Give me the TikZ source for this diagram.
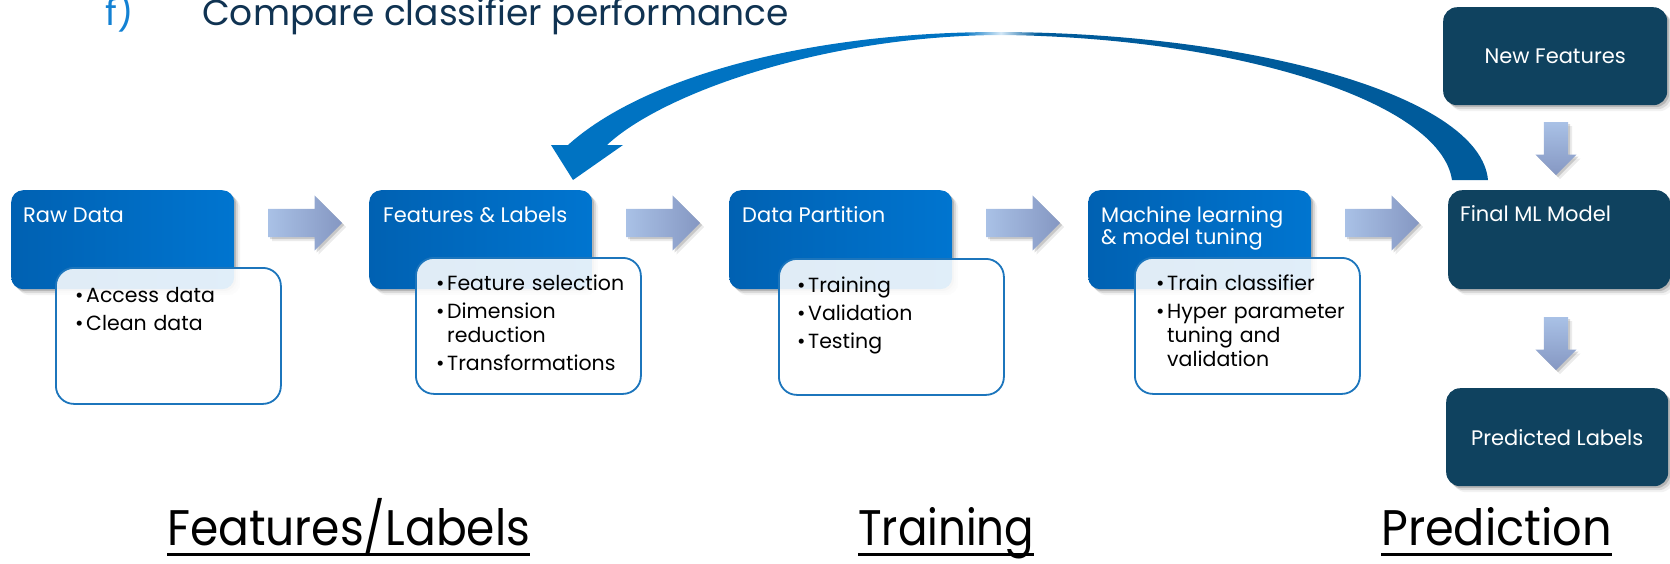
\documentclass[tikz,border=0pt]{standalone}
\usepackage{fontspec}
\usepackage{graphicx}
\setmainfont{Poppins}
\usetikzlibrary{shapes.arrows,shadows}

\definecolor{boxA}{HTML}{0061B2}
\definecolor{boxB}{HTML}{0075D0}
\definecolor{navy}{HTML}{0F425F}
\definecolor{listline}{HTML}{1C75BC}
\definecolor{arcL}{HTML}{0073C2}
\definecolor{arcR}{HTML}{005B9B}
\definecolor{arcHi}{HTML}{D4E8F7}
\definecolor{arrL}{HTML}{A9C1E6}
\definecolor{arrR}{HTML}{8597C2}
\definecolor{titleblue}{HTML}{1381D3}
\definecolor{titlenavy}{HTML}{103352}

\pgfdeclarehorizontalshading{arcshade}{100bp}{color(0bp)=(arcL); color(25bp)=(arcL); color(47bp)=(arcL); color(49bp)=(arcHi); color(51bp)=(arcR); color(75bp)=(arcR); color(100bp)=(arcR)}

\newcommand{\boxfont}{\fontsize{21}{21.6}\selectfont}
\newcommand{\listfont}{\fontsize{20.5}{24}\selectfont\setlength{\parskip}{4pt}}
% one bullet item with a hanging indent
\newcommand{\bpt}[1]{\noindent\hangindent=11pt\hangafter=1\makebox[11pt][l]{\rule{0pt}{15pt}\textbullet}#1\par}
\newcommand{\tstrut}{\rule{0pt}{17pt}}

\begin{document}
\begin{tikzpicture}[x=1pt,y=-1pt,
  boxshadow/.style={drop shadow={shadow xshift=2pt,shadow yshift=-2pt,opacity=.16,fill=black},
                    drop shadow={shadow xshift=4pt,shadow yshift=-4pt,opacity=.10,fill=black},
                    drop shadow={shadow xshift=6pt,shadow yshift=-6pt,opacity=.05,fill=black}},
  arrowshadow/.style={drop shadow={shadow xshift=2pt,shadow yshift=-2pt,opacity=.15,fill=black},
                      drop shadow={shadow xshift=4pt,shadow yshift=-4pt,opacity=.08,fill=black}},
  bluebox/.style={rectangle, rounded corners=12pt, anchor=north west, inner sep=0pt,
                  minimum width=223pt, minimum height=99pt, left color=boxA, right color=boxB, boxshadow},
  navybox/.style={rectangle, rounded corners=14pt, anchor=north west, inner sep=0pt,
                  fill=navy, text=white, font=\boxfont, boxshadow},
  listbox/.style={rectangle, rounded corners=18pt, anchor=north west, inner sep=0pt,
                  minimum width=225pt, minimum height=136pt, draw=listline, line width=1.8pt,
                  fill=white, fill opacity=.88},
  boxtitle/.style={anchor=north west, inner sep=0pt, text=white, font=\boxfont, align=left},
  listtext/.style={anchor=north west, inner sep=0pt, text width=205pt, font=\listfont, align=left},
  flowarrow/.style={single arrow, anchor=tail, single arrow head extend=13.5pt, single arrow head indent=0pt,
                    minimum height=74pt, minimum width=55pt, inner xsep=0pt, inner ysep=14pt,
                    left color=arrL, right color=arrR, arrowshadow},
  downarrow/.style={single arrow, anchor=tail, shape border rotate=270, single arrow head extend=8.5pt,
                    single arrow head indent=0pt, minimum height=53pt, minimum width=41pt,
                    inner xsep=12pt, inner ysep=0pt, top color=arrL, bottom color=arrR, arrowshadow},
  heading/.style={anchor=base west, inner sep=0pt, font=\fontsize{36}{40}\selectfont},
  stage/.style={anchor=base west, inner sep=0pt, font=\fontsize{50}{56}\selectfont, text=black}
]
\useasboundingbox (0,0) rectangle (1670,563);

% heading
\node[heading, text=titleblue] (fmark) at (105,25) {f)};
\node[heading, text=titlenavy] (ftitle) at (202,25) {Compare classifier performance};

% feedback arrow from the final model back to the features stage
\coordinate (fbStart) at (1470,180);
\coordinate (fbTip) at (573,180);
\shade[shading=arcshade]
  (1488,180) .. controls (1480,95) and (1250,33) .. (1000,32)
  .. controls (800,32) and (640,80) .. (568,145)
  -- (551,145) -- (fbTip) -- (623,145) -- (607,145)
  .. controls (660,95) and (820,36) .. (1000,35)
  .. controls (1230,37) and (1440,100) .. (1452,180) -- cycle;

% stage boxes
\node[bluebox] (raw)  at (11,190)   {};
\node[bluebox] (feat) at (369,190)  {};
\node[bluebox] (part) at (729,190)  {};
\node[bluebox] (mlt)  at (1088,190) {};
\node[navybox, minimum width=222pt, minimum height=99pt] (final) at (1448,190) {};
\node[navybox, minimum width=224pt, minimum height=98pt] (newf)  at (1443,7)   {New Features};
\node[navybox, minimum width=222pt, minimum height=98pt] (pred)  at (1446,388) {Predicted Labels};

\node[boxtitle] (rawT)   at ([xshift=12pt,yshift=-15pt]raw.north west)   {\tstrut Raw Data};
\node[boxtitle] (featT)  at ([xshift=14pt,yshift=-15pt]feat.north west)  {\tstrut Features \& Labels};
\node[boxtitle] (partT)  at ([xshift=13pt,yshift=-15pt]part.north west)  {\tstrut Data Partition};
\node[boxtitle] (mltT)   at ([xshift=13pt,yshift=-15pt]mlt.north west)   {\tstrut Machine learning\\\& model tuning};
\node[boxtitle] (finalT) at ([xshift=12pt,yshift=-14pt]final.north west) {\tstrut Final ML Model};

% detail boxes
\node[listbox] (rawB)  at (55,267)   {};
\node[listbox] (featB) at (415,257)  {};
\node[listbox] (partB) at (778,258)  {};
\node[listbox] (mltB)  at (1134,257) {};

\node[listtext] (rawL)  at (75,287)   {\bpt{Access data}\bpt{Clean data}};
\node[listtext] (featL) at (436,275)  {\bpt{Feature selection}\bpt{Dimension\newline reduction}\bpt{Transformations}};
\node[listtext] (partL) at (797,277)  {\bpt{Training}\bpt{Validation}\bpt{Testing}};
\node[listtext] (mltL)  at (1156,275) {\bpt{Train classifier}\bpt{Hyper parameter\newline tuning and\newline validation}};

% flow arrows
\node[flowarrow] (a1) at (268,223)  {};
\node[flowarrow] (a2) at (626,223)  {};
\node[flowarrow] (a3) at (986,223)  {};
\node[flowarrow] (a4) at (1345,223) {};
\node[downarrow] (d1) at (1556,122) {};
\node[downarrow] (d2) at (1556,317) {};

% stage labels
\node[stage] (sFeat)  at (167,545)  {\resizebox{363pt}{\height}{Features/Labels}};
\node[stage] (sTrain) at (858,545)  {\resizebox{176pt}{\height}{Training}};
\node[stage] (sPred)  at (1381,545) {\resizebox{231pt}{\height}{Prediction}};
\foreach \s in {sFeat,sTrain,sPred}
  \draw[line width=3pt] ([yshift=-9pt]\s.base west) -- ([yshift=-9pt]\s.base east);
\end{tikzpicture}
\end{document}
